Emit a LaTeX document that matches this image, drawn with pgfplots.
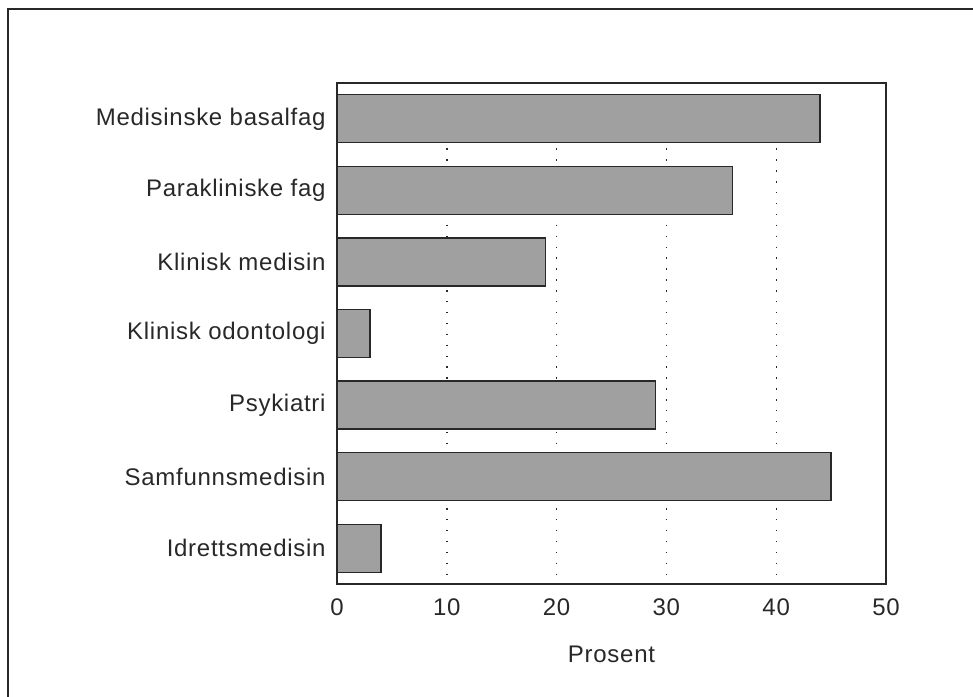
\documentclass[border=0pt]{standalone}
\usepackage{fontspec}
\setmainfont{Liberation Sans}[LetterSpace=3]
\usepackage{pgfplots}
\pgfplotsset{compat=1.18}
\definecolor{bargray}{RGB}{160,160,160}
\definecolor{ink}{RGB}{40,40,40}

\pgfplotstableread{
idx val
0 44
1 36
2 19
3 3
4 29
5 45
6 4
}\fagdata

\begin{document}
\fontsize{24bp}{29bp}\selectfont
\begin{tikzpicture}
  \useasboundingbox (0,0) rectangle (973bp,697bp);
  \draw[ink, line width=1.8bp] (8bp,0) -- (8bp,688bp) -- (973bp,688bp);
  \begin{axis}[
    at={(337bp,113bp)},
    anchor=south west,
    scale only axis,
    width=549bp,
    height=501bp,
    xbar,
    bar width=48bp,
    xmin=0, xmax=50,
    ymin=-0.5, ymax=6.5,
    y dir=reverse,
    xtick={0,10,20,30,40,50},
    ytick={0,1,2,3,4,5,6},
    yticklabels={Medisinske basalfag, Parakliniske fag, Klinisk medisin,
      Klinisk odontologi, Psykiatri, Samfunnsmedisin, Idrettsmedisin},
    tick style={draw=none},
    xmajorgrids=true,
    major grid style={ink, line width=1.4bp, dash pattern=on 1.4bp off 9.5bp},
    axis line style={ink, line width=1.6bp},
    ticklabel style={font=\fontsize{24bp}{29bp}\selectfont, text=ink},
    /pgf/number format/assume math mode=true,
    xticklabel style={yshift=-7bp},
    yticklabel style={xshift=1bp},
    xlabel={Prosent},
    xlabel style={font=\fontsize{24bp}{29bp}\selectfont, text=ink, yshift=-14bp},
  ]
    \addplot[fill=bargray, draw=ink, line width=1.4bp] table[x=val, y=idx] {\fagdata};
  \end{axis}
\end{tikzpicture}
\end{document}
